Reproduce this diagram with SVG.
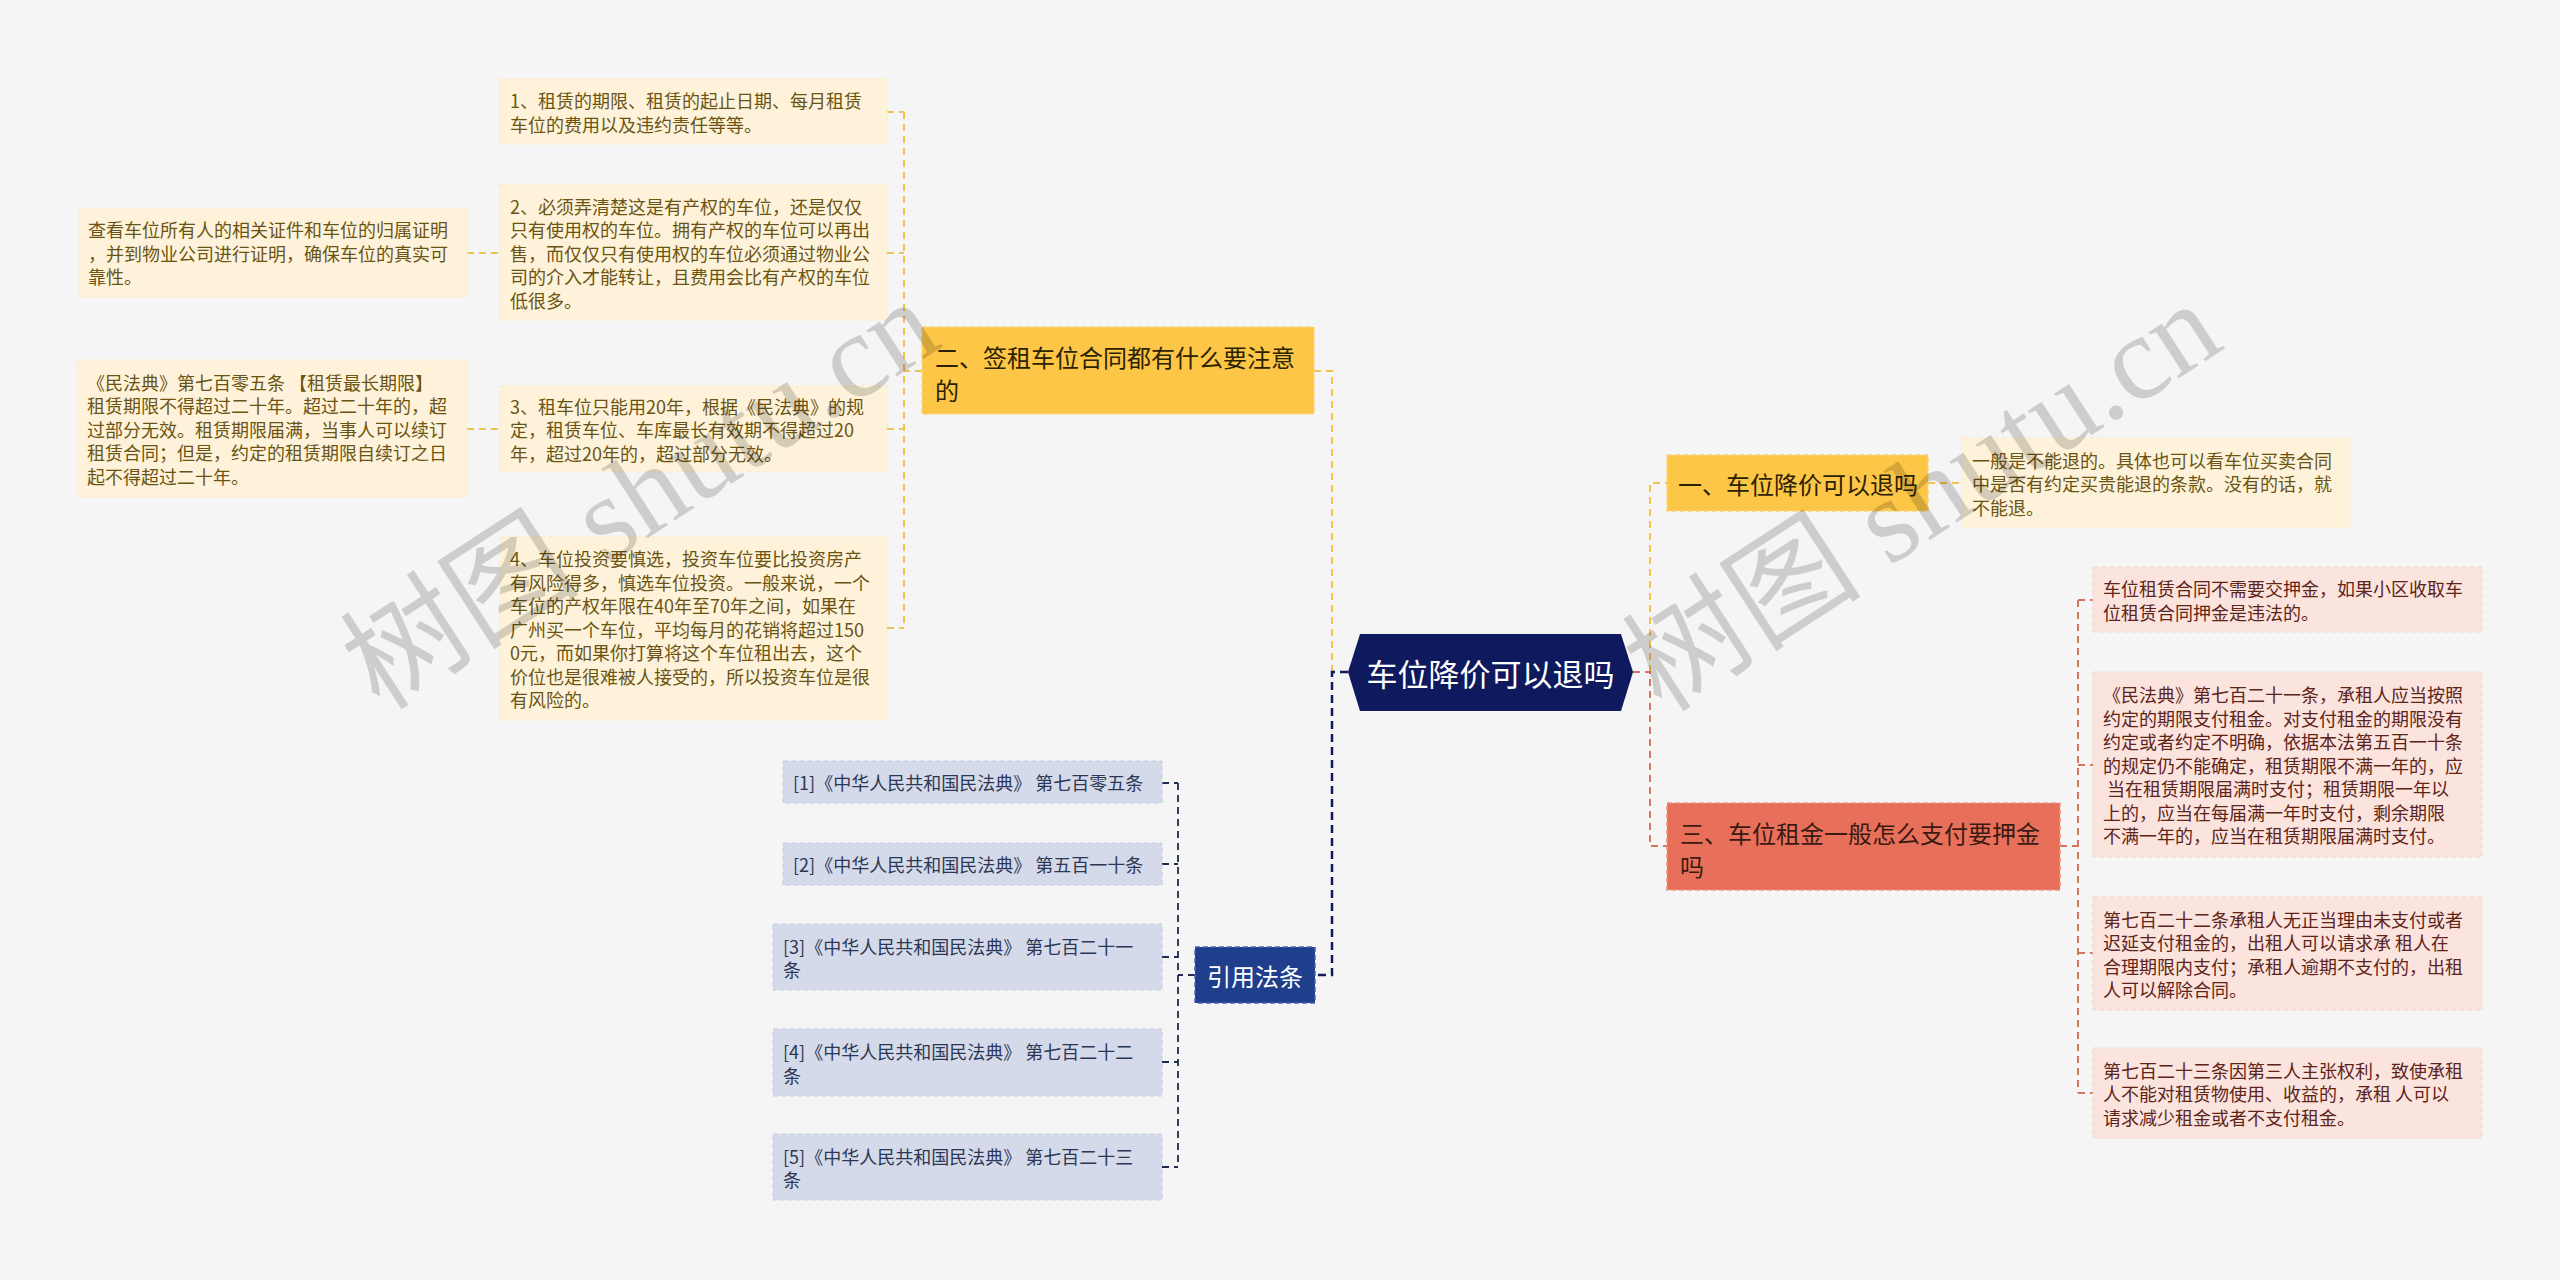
<svg xmlns="http://www.w3.org/2000/svg" width="2560" height="1280" viewBox="0 0 2560 1280">
<style>
text, tspan { font-family: "Noto Sans CJK SC", "Noto Sans", sans-serif; dominant-baseline: central; }
.bg { fill: #F5F5F5; }
.root { fill: #0F1A5E; }
.rootT { fill: #FFFFFF; font-size: 31px; text-anchor: middle; }
.ynode { fill: #FDC646; stroke: #F8D57A; stroke-width: 1.5; stroke-dasharray: 5 3; }
.rnode { fill: #E8705A; stroke: #EE927F; stroke-width: 1.5; stroke-dasharray: 5 3; }
.bnode { fill: #1F3E8C; stroke: #4A66B0; stroke-width: 1.5; stroke-dasharray: 5 3; }
.nodeT { font-size: 24px; fill: #2B2200; }
.rnodeT { font-size: 24px; fill: #3B1A12; }
.bnodeT { font-size: 24px; fill: #FFFFFF; text-anchor: middle; }
.yleaf { fill: #FEF3DA; stroke: #FBEAC4; stroke-width: 1; stroke-dasharray: 5 3; }
.rleaf { fill: #FBE3DE; stroke: #F6D3CB; stroke-width: 1; stroke-dasharray: 5 3; }
.bleaf { fill: #D4DAE9; stroke: #C6CDE0; stroke-width: 1; stroke-dasharray: 5 3; }
.yT { font-size: 18px; fill: #6B5413; }
.rT { font-size: 18px; fill: #5E2418; }
.bT { font-size: 18px; fill: #2C3755; }
.cy { fill: none; stroke: #F0C24F; stroke-width: 2; stroke-dasharray: 7 5; }
.cr { fill: none; stroke: #D9735E; stroke-width: 2; stroke-dasharray: 7 5; }
.cn { fill: none; stroke: #0F1A5E; stroke-width: 2.5; stroke-dasharray: 8 5; }
.cb { fill: none; stroke: #1E2A4E; stroke-width: 1.8; stroke-dasharray: 7 5; }
.wm { font-family: "Liberation Serif", "Noto Sans CJK SC", serif; font-size: 120px; fill: #000000; fill-opacity: 0.16; dominant-baseline: alphabetic; }
</style>
<rect class="bg" x="0" y="0" width="2560" height="1280"/>

<g id="connectors">
  <path class="cy" d="M1332,672 V371 H1314"/>
  <path class="cn" d="M1348,672 H1332 V975 H1315"/>
  <path class="cy" d="M1650,672 V483 H1667"/>
  <path class="cr" d="M1633,672 H1650 V846 H1667"/>
  <path class="cy" d="M922,371 H904 M904,112 V628 M887,112 H904 M887,253 H904 M887,429 H904 M887,628 H904"/>
  <path class="cy" d="M467,253 H500 M467,429 H500"/>
  <path class="cy" d="M1928,483 H1962"/>
  <path class="cr" d="M2060,846 H2078 M2078,600 V1093 M2078,600 H2093 M2078,765 H2093 M2078,953 H2093 M2078,1093 H2093"/>
  <path class="cb" d="M1195,975 H1178 M1178,783 V1167 M1162,783 H1178 M1162,864 H1178 M1162,957 H1178 M1162,1062 H1178 M1162,1167 H1178"/>
</g>

<g id="root">
  <polygon class="root" points="1348,672 1360,634 1621,634 1633,672 1621,711 1360,711"/>
  <text class="rootT" x="1490.5" y="672">车位降价可以退吗</text>
</g>

<g id="node-2">
  <rect class="ynode" x="922" y="327" width="392" height="87"/>
  <text class="nodeT"><tspan x="935" y="356">二、签租车位合同都有什么要注意</tspan><tspan x="935" y="389">的</tspan></text>
</g>

<g id="leaf-2-1">
  <rect class="yleaf" x="500" y="79" width="387" height="65"/>
  <text class="yT"><tspan x="510" y="100">1、租赁的期限、租赁的起止日期、每月租赁</tspan><tspan x="510" y="123.5">车位的费用以及违约责任等等。</tspan></text>
</g>
<g id="leaf-2-2">
  <rect class="yleaf" x="500" y="185" width="387" height="135"/>
  <text class="yT"><tspan x="510" y="205.5">2、必须弄清楚这是有产权的车位，还是仅仅</tspan><tspan x="510" y="229">只有使用权的车位。拥有产权的车位可以再出</tspan><tspan x="510" y="252.5">售，而仅仅只有使用权的车位必须通过物业公</tspan><tspan x="510" y="276">司的介入才能转让，且费用会比有产权的车位</tspan><tspan x="510" y="299.5">低很多。</tspan></text>
</g>
<g id="leaf-2-2-1">
  <rect class="yleaf" x="79" y="208" width="388" height="89"/>
  <text class="yT"><tspan x="88" y="229">查看车位所有人的相关证件和车位的归属证明</tspan><tspan x="88" y="252.5">，并到物业公司进行证明，确保车位的真实可</tspan><tspan x="88" y="276">靠性。</tspan></text>
</g>
<g id="leaf-2-3">
  <rect class="yleaf" x="500" y="386" width="387" height="86"/>
  <text class="yT"><tspan x="510" y="405.5">3、租车位只能用20年，根据《民法典》的规</tspan><tspan x="510" y="429">定，租赁车位、车库最长有效期不得超过20</tspan><tspan x="510" y="452.5">年，超过20年的，超过部分无效。</tspan></text>
</g>
<g id="leaf-2-3-1">
  <rect class="yleaf" x="78" y="360" width="389" height="137"/>
  <text class="yT"><tspan x="87" y="381.5">《民法典》第七百零五条 【租赁最长期限】</tspan><tspan x="87" y="405">租赁期限不得超过二十年。超过二十年的，超</tspan><tspan x="87" y="428.5">过部分无效。租赁期限届满，当事人可以续订</tspan><tspan x="87" y="452">租赁合同；但是，约定的租赁期限自续订之日</tspan><tspan x="87" y="475.5">起不得超过二十年。</tspan></text>
</g>
<g id="leaf-2-4">
  <rect class="yleaf" x="500" y="537" width="387" height="183"/>
  <text class="yT"><tspan x="510" y="558">4、车位投资要慎选，投资车位要比投资房产</tspan><tspan x="510" y="581.5">有风险得多，慎选车位投资。一般来说，一个</tspan><tspan x="510" y="605">车位的产权年限在40年至70年之间，如果在</tspan><tspan x="510" y="628.5">广州买一个车位，平均每月的花销将超过150</tspan><tspan x="510" y="652">0元，而如果你打算将这个车位租出去，这个</tspan><tspan x="510" y="675.5">价位也是很难被人接受的，所以投资车位是很</tspan><tspan x="510" y="699">有风险的。</tspan></text>
</g>

<g id="node-refs">
  <rect class="bnode" x="1195" y="947" width="120" height="56"/>
  <text class="bnodeT" x="1255" y="975">引用法条</text>
</g>
<g id="ref-1">
  <rect class="bleaf" x="783" y="761" width="379" height="42"/>
  <text class="bT" x="793" y="782">[1]《中华人民共和国民法典》 第七百零五条</text>
</g>
<g id="ref-2">
  <rect class="bleaf" x="783" y="843" width="379" height="42"/>
  <text class="bT" x="793" y="864">[2]《中华人民共和国民法典》 第五百一十条</text>
</g>
<g id="ref-3">
  <rect class="bleaf" x="773" y="924" width="389" height="66"/>
  <text class="bT"><tspan x="783" y="945.5">[3]《中华人民共和国民法典》 第七百二十一</tspan><tspan x="783" y="968.5">条</tspan></text>
</g>
<g id="ref-4">
  <rect class="bleaf" x="773" y="1029" width="389" height="67"/>
  <text class="bT"><tspan x="783" y="1051">[4]《中华人民共和国民法典》 第七百二十二</tspan><tspan x="783" y="1074.5">条</tspan></text>
</g>
<g id="ref-5">
  <rect class="bleaf" x="773" y="1134" width="389" height="66"/>
  <text class="bT"><tspan x="783" y="1155.5">[5]《中华人民共和国民法典》 第七百二十三</tspan><tspan x="783" y="1178.5">条</tspan></text>
</g>

<g id="node-1">
  <rect class="ynode" x="1667" y="455" width="261" height="56"/>
  <text class="nodeT" x="1678" y="483">一、车位降价可以退吗</text>
</g>
<g id="leaf-1-1">
  <rect class="yleaf" x="1962" y="438" width="388" height="90"/>
  <text class="yT"><tspan x="1972" y="459.5">一般是不能退的。具体也可以看车位买卖合同</tspan><tspan x="1972" y="483">中是否有约定买贵能退的条款。没有的话，就</tspan><tspan x="1972" y="506.5">不能退。</tspan></text>
</g>

<g id="node-3">
  <rect class="rnode" x="1667" y="803" width="393" height="87"/>
  <text class="rnodeT"><tspan x="1680" y="832">三、车位租金一般怎么支付要押金</tspan><tspan x="1680" y="865">吗</tspan></text>
</g>
<g id="leaf-3-1">
  <rect class="rleaf" x="2093" y="567" width="389" height="65"/>
  <text class="rT"><tspan x="2103" y="588">车位租赁合同不需要交押金，如果小区收取车</tspan><tspan x="2103" y="611.5">位租赁合同押金是违法的。</tspan></text>
</g>
<g id="leaf-3-2">
  <rect class="rleaf" x="2093" y="672" width="389" height="185"/>
  <text class="rT"><tspan x="2103" y="694">《民法典》第七百二十一条，承租人应当按照</tspan><tspan x="2103" y="717.5">约定的期限支付租金。对支付租金的期限没有</tspan><tspan x="2103" y="741">约定或者约定不明确，依据本法第五百一十条</tspan><tspan x="2103" y="764.5">的规定仍不能确定，租赁期限不满一年的，应</tspan><tspan x="2103" y="788" xml:space="preserve"> 当在租赁期限届满时支付；租赁期限一年以</tspan><tspan x="2103" y="811.5">上的，应当在每届满一年时支付，剩余期限</tspan><tspan x="2103" y="835">不满一年的，应当在租赁期限届满时支付。</tspan></text>
</g>
<g id="leaf-3-3">
  <rect class="rleaf" x="2093" y="897" width="389" height="113"/>
  <text class="rT"><tspan x="2103" y="918.5">第七百二十二条承租人无正当理由未支付或者</tspan><tspan x="2103" y="942" xml:space="preserve">迟延支付租金的，出租人可以请求承 租人在</tspan><tspan x="2103" y="965.5">合理期限内支付；承租人逾期不支付的，出租</tspan><tspan x="2103" y="989">人可以解除合同。</tspan></text>
</g>
<g id="leaf-3-4">
  <rect class="rleaf" x="2093" y="1048" width="389" height="90"/>
  <text class="rT"><tspan x="2103" y="1069.5">第七百二十三条因第三人主张权利，致使承租</tspan><tspan x="2103" y="1093" xml:space="preserve">人不能对租赁物使用、收益的，承租 人可以</tspan><tspan x="2103" y="1116.5">请求减少租金或者不支付租金。</tspan></text>
</g>

<g id="watermarks">
  <text class="wm" transform="translate(380,712) rotate(-33)">树图 shutu.cn</text>
  <text class="wm" transform="translate(1662,714) rotate(-33)">树图 shutu.cn</text>
</g>
</svg>
